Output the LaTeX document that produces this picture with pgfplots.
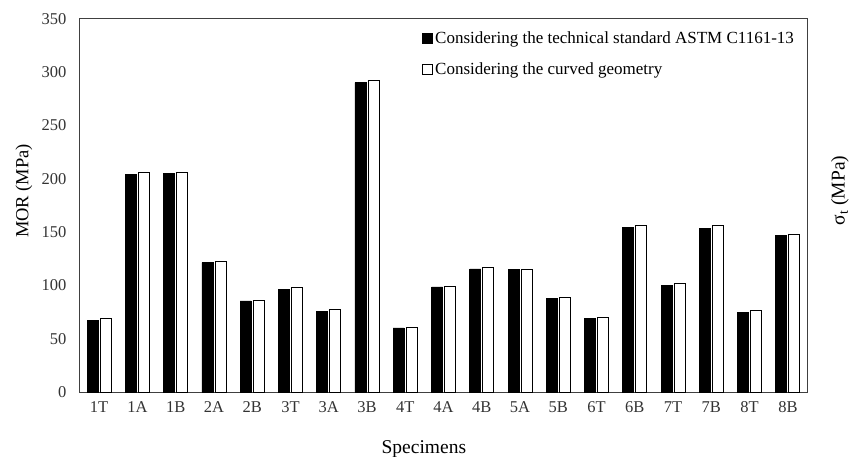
\documentclass[border=0pt]{standalone}
\usepackage{fontspec}
\setmainfont{Liberation Serif}
\usepackage{pgfplots}
\pgfplotsset{compat=1.18}
\begin{document}
\begin{tikzpicture}
\begin{axis}[
  name=ax,
  at={(0,0)}, anchor=south west,
  scale only axis,
  width=727pt, height=373pt,
  ybar, bar width=11pt,
  xmin=-0.5, xmax=18.5,
  ymin=0, ymax=350,
  ytick={0,50,...,350},
  xtick=data,
  xticklabels={1T,1A,1B,2A,2B,3T,3A,3B,4T,4A,4B,5A,5B,6T,6B,7T,7B,8T,8B},
  major tick length=0pt,
  axis line style={draw=black!75, line width=1pt},
  /pgf/number format/assume math mode=true,
  ticklabel style={font=\fontsize{16.5}{19}\selectfont, text=black!80},
  yticklabel style={xshift=-10pt},
  xticklabel style={yshift=-6pt},
  every axis y label/.style={at={(rel axis cs:0,0.539)}, xshift=-56pt, rotate=90, anchor=center, font=\fontsize{18.5}{22}\selectfont},
  every axis x label/.style={at={(rel axis cs:0.473,0)}, yshift=-57pt, anchor=center, font=\fontsize{19.5}{22}\selectfont},
  ylabel={MOR (MPa)},
  xlabel={Specimens},
  legend style={at={(rel axis cs:0.468,0.978)}, anchor=north west, draw=none, fill=none,
    font=\fontsize{17}{20}\selectfont, row sep=14pt, inner sep=2pt,
    legend cell align=left},
  legend image code/.code={\draw[#1,draw=black,line width=0.8pt] (0pt,-5pt) rectangle (10pt,5pt);},
]
\addplot[fill=black, draw=black, line width=0.8pt] coordinates {
(0,67.3) (1,204.2) (2,205.0) (3,121.5) (4,85.4) (5,96.4) (6,76.0) (7,290.2) (8,60.1) (9,98.6)
(10,115.5) (11,114.6) (12,88.0) (13,68.6) (14,154.0) (15,100.2) (16,153.4) (17,74.8) (18,147.1)};
\addplot[fill=white, draw=black, line width=0.8pt] coordinates {
(0,68.6) (1,206.0) (2,206.0) (3,122.7) (4,85.5) (5,97.7) (6,77.4) (7,292.7) (8,60.3) (9,98.7)
(10,116.8) (11,115.5) (12,89.2) (13,69.9) (14,156.5) (15,101.8) (16,155.9) (17,76.1) (18,148.1)};
\legend{Considering the technical standard ASTM C1161-13, Considering the curved geometry}
\end{axis}
\node[rotate=90, anchor=center, font=\fontsize{19.5}{22}\selectfont] at ([xshift=33pt,yshift=15pt]ax.east) {σ\textsubscript{t} (MPa)};
\pgfresetboundingbox
\path ([shift={(-80pt,-65pt)}]ax.south west) rectangle ([shift={(43pt,19pt)}]ax.north east);
\end{tikzpicture}
\end{document}
